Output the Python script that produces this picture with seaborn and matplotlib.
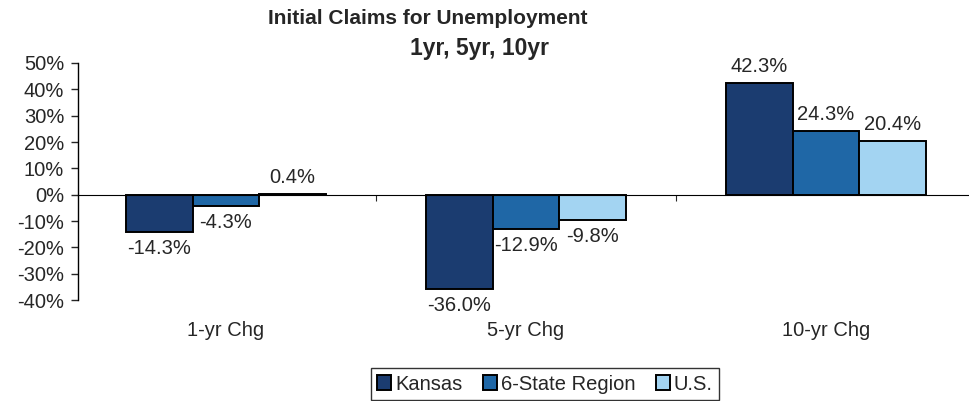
import pandas as pd
import matplotlib.pyplot as plt
import seaborn as sns

periods = ["1-yr Chg", "5-yr Chg", "10-yr Chg"]
regions = ["Kansas", "6-State Region", "U.S."]
kansas = [-14.3, -36.0, 42.3]
six_state = [-4.3, -12.9, 24.3]
us = [0.4, -9.8, 20.4]
colors = ["#1b3c70", "#1f67a6", "#a3d4f2"]

rows = []
for name, vals in zip(regions, [kansas, six_state, us]):
    for p, v in zip(periods, vals):
        rows.append({"period": p, "region": name, "change": v / 100})
df = pd.DataFrame(rows)

sns.set_style("white")
plt.rcParams['font.family'] = ['Liberation Sans', 'DejaVu Sans']
fs = 14.5

fig = plt.figure(figsize=(9.7, 4.01), dpi=100)
ax = fig.add_axes([78 / 970, 1 - 300 / 401, 890 / 970, 237 / 401])

sns.barplot(data=df, x="period", y="change", hue="region", palette=colors,
            edgecolor="black", linewidth=1.4, width=2 / 3, gap=0,
            saturation=1, ax=ax, legend=False)

for cont in ax.containers:
    ax.bar_label(cont, labels=[f"{v * 100:.1f}%" for v in cont.datavalues],
                 padding=5, fontsize=fs)

ax.set_ylim(-0.4, 0.5)
ax.set_xlim(-0.4933, 2.4733)
ax.set_yticks([i / 10 for i in range(-4, 6)])
ax.set_yticklabels([f"{i * 10}%" for i in range(-4, 6)], fontsize=fs)
ax.tick_params(axis="y", direction="out", length=5, width=1, left=True, pad=5)

# x axis line at zero, category labels at the bottom
for s in ["top", "right"]:
    ax.spines[s].set_visible(False)
ax.spines["bottom"].set_position(("data", 0))
ax.spines["left"].set_linewidth(1)
ax.spines["left"].set_color("black")
ax.spines["bottom"].set_color("black")
ax.set_xticks([0.5, 1.5])
ax.set_xticklabels([])
ax.tick_params(axis="x", direction="out", length=4, bottom=True)
for i, p in enumerate(periods):
    ax.text(i, -0.478, p, ha="center", va="top", fontsize=fs,
            transform=ax.transData)
ax.set_xlabel("")
ax.set_ylabel("")

fig.text(428 / 970, 1 - 19 / 401, "Initial Claims for Unemployment",
         ha="center", va="center", fontsize=15, fontweight="bold")
fig.text(480 / 970, 1 - 48 / 401, "1yr, 5yr, 10yr",
         ha="center", va="center", fontsize=16.5, fontweight="bold")

handles = [plt.Rectangle((0, 0), 1, 1, facecolor=c, edgecolor="black", linewidth=1.4)
           for c in colors]
leg = fig.legend(handles, regions, loc="center", bbox_to_anchor=(545 / 970, 1 - 384 / 401),
                 ncol=3, fontsize=fs, frameon=True, fancybox=False,
                 handlelength=0.7, handleheight=0.7, handletextpad=0.2,
                 columnspacing=1.0, borderpad=0.3)
leg.get_frame().set_edgecolor("black")
leg.get_frame().set_linewidth(1)

fig.savefig("out.png", dpi=100)
